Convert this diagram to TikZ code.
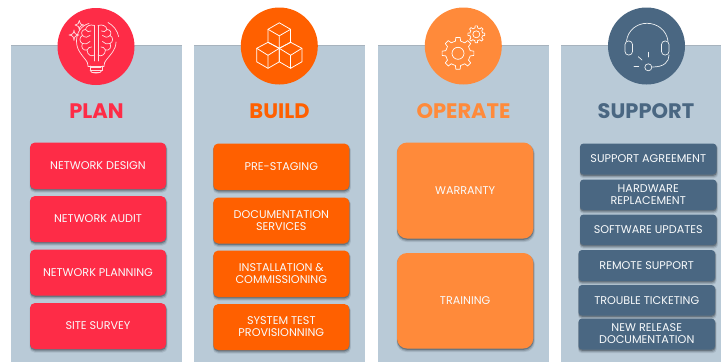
\documentclass[tikz,border=0pt]{standalone}
\usepackage{fontspec}
\setmainfont{Poppins}
\definecolor{panelc}{HTML}{B9CAD7}
\definecolor{paneledge}{HTML}{A7B3BE}
\definecolor{redc}{HTML}{FE2C47}
\definecolor{orangec}{HTML}{FF6000}
\definecolor{amberc}{HTML}{FF8A3A}
\definecolor{bluec}{HTML}{4A6782}
\tikzset{
  panelbox/.style={fill=panelc,draw=none,inner sep=0pt},
  badge/.style={circle,inner sep=0pt,minimum size=77pt,draw=none},
  btnbox/.style={rounded corners=#1,draw=none,inner sep=0pt,align=center,text=white!92!panelc,
     font=\fontsize{11.2}{12}\selectfont},
  btnbox/.default=5pt,
  titletext/.style={inner sep=0pt,font=\fontsize{21}{24}\selectfont\bfseries},
  iconline/.style={draw=white,line width=0.8pt,line cap=round,line join=round},
  thinline/.style={draw=white!85!redc,line width=0.7pt,line cap=round,line join=round}
}
% name, x1,y1,x2,y2, colour, radius, text
\newcommand{\btnshape}[8]{%
  \fill[black!70!bluec,opacity=.10,rounded corners=#7] (#2-0.5,#3+1) rectangle (#4+1.5,#5+3.5);
  \fill[black!70!bluec,opacity=.18,rounded corners=#7] (#2,#3+1) rectangle (#4+0.8,#5+2.5);
  \fill[black!70!bluec,opacity=.30,rounded corners=#7] (#2,#3+1) rectangle (#4+0.3,#5+1.3);
  \node[btnbox=#7,fill=#6,minimum width=#4pt-#2pt,minimum height=#5pt-#3pt] (#1) at ({(#2+#4)/2},{(#3+#5)/2}) {#8};
}
\newcommand{\panelshape}[5]{%
  \fill[paneledge] (#2,#3-0.8) rectangle (#4,#5);
  \node[panelbox,minimum width=#4pt-#2pt,minimum height=#5pt-#3pt] (#1) at ({(#2+#4)/2},{(#3+#5)/2}) {};
}
% cx,cy,teeth,rin,rout
\newcommand{\gearshape}[5]{%
  \pgfmathsetmacro{\gstep}{360/#3}
  \pgfmathsetmacro{\gw}{\gstep*0.17}
  \pgfmathsetmacro{\gv}{\gstep*0.27}
  \foreach \ii in {1,...,#3}{
    \pgfmathsetmacro{\ga}{\ii*\gstep}
    \draw[iconline,line width=0.7pt,shift={(#1,#2)}]
      (\ga-\gv:#4) -- (\ga-\gw:#5) arc[start angle=\ga-\gw,end angle=\ga+\gw,radius=#5] -- (\ga+\gv:#4)
      arc[start angle=\ga+\gv,end angle=\ga+\gstep-\gv,radius=#4];
  }
}
\begin{document}
\begin{tikzpicture}[x=1pt,y=-1pt]
\useasboundingbox (0,0) rectangle (721,362);
\fill[white] (0,0) rectangle (721,362);

\panelshape{p1}{11.3}{45.5}{182}{362}
\panelshape{p2}{194.3}{45.5}{365}{362}
\panelshape{p3}{377.5}{45.5}{548.5}{362}
\panelshape{p4}{561.3}{45.5}{721}{362}

\node[badge,fill=redc] (c1) at (96,46.5) {};
\node[badge,fill=orangec] (c2) at (279.3,46) {};
\node[badge,fill=amberc] (c3) at (463.3,46) {};
\node[badge,fill=bluec] (c4) at (646.5,46) {};

\node[titletext,text=redc] (t1) at (96.5,111) {PLAN};
\node[titletext,text=orangec] (t2) at (279.5,111) {BUILD};
\node[titletext,text=amberc] (t3) at (463.5,111) {OPERATE};
\node[titletext,text=bluec] (t4) at (646,111) {SUPPORT};

\btnshape{a1}{30}{142.5}{166}{189}{redc}{5}{NETWORK DESIGN}
\btnshape{a2}{30}{196}{166}{242}{redc}{5}{NETWORK AUDIT}
\btnshape{a3}{30}{249.5}{166}{295.5}{redc}{5}{NETWORK PLANNING}
\btnshape{a4}{30}{303}{166}{349}{redc}{5}{SITE SURVEY}

\btnshape{b1}{213.3}{143.5}{349.3}{190}{orangec}{5}{PRE-STAGING}
\btnshape{b2}{213.3}{197.5}{349.3}{243.5}{orangec}{5}{DOCUMENTATION\\SERVICES}
\btnshape{b3}{213.3}{250.5}{349.3}{297}{orangec}{5}{INSTALLATION \&\\COMMISSIONING}
\btnshape{b4}{213.3}{304}{349.3}{350}{orangec}{5}{SYSTEM TEST\\PROVISIONNING}

\btnshape{d1}{397}{142.5}{533.3}{238.5}{amberc}{10}{WARRANTY}
\btnshape{d2}{397}{253}{533.3}{348.5}{amberc}{10}{TRAINING}

\btnshape{e1}{580}{143.5}{716.5}{174.5}{bluec}{3.5}{SUPPORT AGREEMENT}
\btnshape{e2}{580}{179.5}{716.5}{210}{bluec}{3.5}{HARDWARE\\REPLACEMENT}
\btnshape{e3}{580}{214.5}{716.5}{245}{bluec}{3.5}{SOFTWARE UPDATES}
\btnshape{e4}{578.5}{250}{715}{281}{bluec}{3.5}{REMOTE SUPPORT}
\btnshape{e5}{578.5}{285}{715}{315.5}{bluec}{3.5}{TROUBLE TICKETING}
\btnshape{e6}{578.5}{318.5}{715}{349.5}{bluec}{3.5}{NEW RELEASE\\DOCUMENTATION}

% --- bulb + brain icon
\begin{scope}[thinline]
  \draw (108,22.5) arc[start angle=-62,end angle=-12,radius=21];
  \draw (89,23.5) .. controls (81,25.5) and (76.5,33) .. (76.5,41)
        .. controls (76.5,50) and (82,55) .. (85,59) .. controls (87.5,62) and (88,64) .. (88,66);
  \draw (116,42) .. controls (116,50) and (110,55) .. (107,59) .. controls (104.5,62) and (104,64) .. (104,66);
  \draw (88,66) -- (104,66);
  \draw (90,66) -- (90,70) -- (102,70) -- (102,66);
  \draw (91,67.8) -- (101,67.8);
  \draw (90,70.5) .. controls (91,74) and (101,74) .. (102,70.5);
  \draw (92,72.5) -- (100,72.5);
  % brain centre
  \draw (94.5,25.5) -- (94.5,61);
  \draw (98,25.5) -- (98,61);
  \draw (94.5,25.5) .. controls (90,24) and (86,26) .. (85.5,29.5)
        .. controls (82,29.5) and (80.5,33) .. (82.5,35.5)
        .. controls (79,37) and (79,42) .. (82.5,43.5)
        .. controls (80.5,47) and (83,51) .. (87,50)
        .. controls (87.5,55) and (91,57) .. (94.5,55);
  \draw (98,25.5) .. controls (102.5,24) and (106.5,26) .. (107,29.5)
        .. controls (110.5,29.5) and (112,33) .. (110,35.5)
        .. controls (113.5,37) and (113.5,42) .. (110,43.5)
        .. controls (112,47) and (109.5,51) .. (105.5,50)
        .. controls (105,55) and (101.5,57) .. (98,55);
  \draw (85.5,29.5) .. controls (87,32) and (89,32) .. (91,31);
  \draw (82.5,35.5) .. controls (85,38) and (88,37.5) .. (90,35.5);
  \draw (82.5,43.5) .. controls (85,44.5) and (88,44) .. (90,41.5);
  \draw (87,50) .. controls (88,47.5) and (90,47) .. (91.5,47);
  \draw (107,29.5) .. controls (105.5,32) and (103.5,32) .. (101.5,31);
  \draw (110,35.5) .. controls (107.5,38) and (104.5,37.5) .. (102.5,35.5);
  \draw (110,43.5) .. controls (107.5,44.5) and (104.5,44) .. (102.5,41.5);
  \draw (105.5,50) .. controls (104.5,47.5) and (102.5,47) .. (101,47);
  % sparkles
  \draw (79.3,20.5) .. controls (79.6,23.5) and (80.5,24.6) .. (84,25)
        .. controls (80.5,25.4) and (79.6,26.5) .. (79.3,30)
        .. controls (79,26.5) and (78,25.4) .. (75,25)
        .. controls (78,24.6) and (79,23.5) .. (79.3,20.5) -- cycle;
  \draw (74,30) .. controls (74.3,33.5) and (75.5,34.6) .. (79,35)
        .. controls (75.5,35.4) and (74.3,36.5) .. (74,40.5)
        .. controls (73.7,36.5) and (72.5,35.4) .. (69,35)
        .. controls (72.5,34.6) and (73.7,33.5) .. (74,30) -- cycle;
\end{scope}

% --- cubes icon
\begin{scope}[iconline,line width=0.75pt,shift={(279.3,35.3)}]
  \draw (0,-12.5) -- (11.3,-6) -- (11.3,7) -- (0,13) -- (-11.3,7) -- (-11.3,-6) -- cycle;
  \draw (-11.3,-6) -- (0,0.5) -- (11.3,-6) (0,0.5) -- (0,13);
  \begin{scope}[shift={(-11.3,20)}]
    \draw (0,-13) -- (11.3,-7) -- (11.3,6.5) -- (0,13) -- (-11.3,6.5) -- (-11.3,-7) -- cycle;
    \draw (-11.3,-7) -- (0,0) -- (11.3,-7) (0,0) -- (0,13);
  \end{scope}
  \begin{scope}[shift={(11.3,20)}]
    \draw (0,-13) -- (11.3,-7) -- (11.3,6.5) -- (0,13) -- (-11.3,6.5) -- (-11.3,-7) -- cycle;
    \draw (-11.3,-7) -- (0,0) -- (11.3,-7) (0,0) -- (0,13);
  \end{scope}
\end{scope}

% --- gears icon
\gearshape{458}{53.3}{8}{12.5}{16}
\draw[iconline,line width=0.7pt] (458,53.3) circle[radius=6];
\gearshape{476.3}{34.3}{8}{6.5}{8.5}
\draw[iconline,line width=0.7pt] (476.3,34.3) circle[radius=3.5];

% --- headset icon
\begin{scope}[iconline,line width=0.7pt,draw=white!90!bluec]
  \draw (626.5,41) .. controls (628,30) and (637,23.3) .. (647,23.3) .. controls (657,23.3) and (666.5,30) .. (668,41);
  \draw[rounded corners=3.5pt] (625,41) rectangle (632.5,55);
  \draw[rounded corners=3.5pt] (661.5,41) rectangle (669,55);
  \draw (669,55) .. controls (669,62) and (664,67) .. (652.5,67);
  \draw (648.3,67.3) circle[radius=3.5];
  \draw (648.7,52.3) -- (648.7,57);
  \draw (638.3,56.7) -- (642,60);
  \draw (634,66.7) -- (638.7,66.7);
\end{scope}
\end{tikzpicture}
\end{document}
